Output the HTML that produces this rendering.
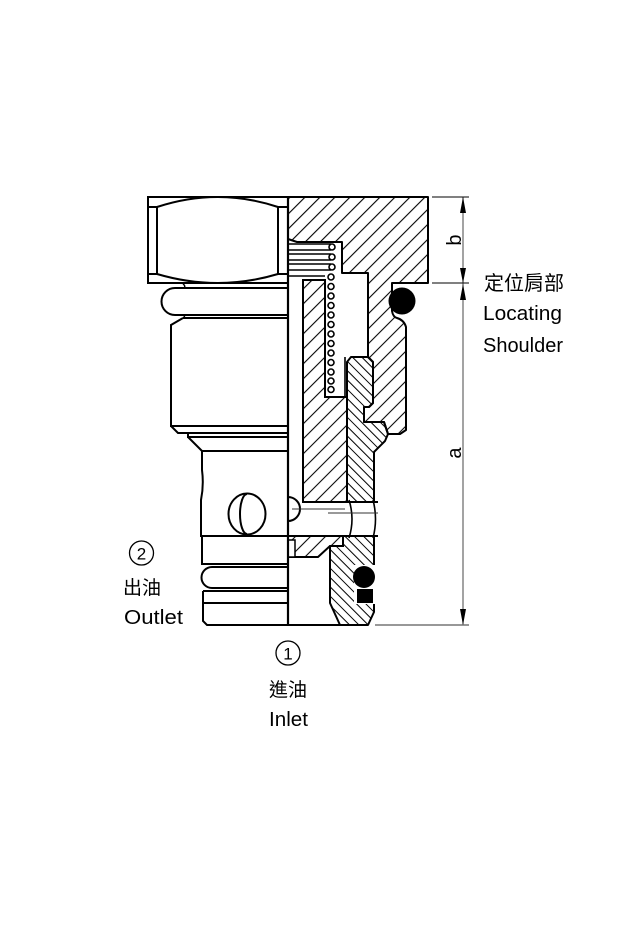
<!DOCTYPE html>
<html><head><meta charset="utf-8">
<style>
html,body{margin:0;padding:0;background:#fff;}
svg{display:block;}
text{font-family:"Liberation Sans","Noto Sans CJK TC",sans-serif;fill:#000;}
</style></head><body>
<svg width="623" height="927" viewBox="0 0 623 927" xmlns="http://www.w3.org/2000/svg">
<defs>
<pattern id="hA" patternUnits="userSpaceOnUse" width="10.6" height="10.6" patternTransform="rotate(45)">
<line x1="5.3" y1="0" x2="5.3" y2="10.6" stroke="#000" stroke-width="1.1"/>
</pattern>
<pattern id="hB" patternUnits="userSpaceOnUse" width="6.6" height="6.6" patternTransform="rotate(-45)">
<line x1="3.3" y1="0" x2="3.3" y2="6.6" stroke="#000" stroke-width="1"/>
</pattern>
</defs>
<rect width="623" height="927" fill="#fff"/>

<!-- LEFT EXTERNAL VIEW -->
<g fill="none" stroke="#000" stroke-width="2">
<rect x="148" y="197" width="140" height="86"/>
<path d="M148 207 H157 V274 H148 M288 207 H278 V274 H288"/>
<path d="M157 207 Q218 187 278 207"/>
<path d="M157 274 Q218 292 278 274"/>
<path d="M185 288 H175 A13.5 13.5 0 0 0 175 315 H185"/>
<path d="M175 288 H288 M175 315 H288 M183 318 H288"/>
<path d="M183 284 Q186 286 184 288 M183 315 Q186 317 183 318" stroke-width="1.5"/>
<path d="M183 318 L171 325 V426 H288"/>
<path d="M171 426 L178 433 H288 M188 433 V437 H288 M188 437 L202 451 H288"/>
<path d="M202 451 V470 Q204 485 201 500 V536 H288"/>
<path d="M202 536 V564 H288"/>
<path d="M218 567 H212 A10.5 10.5 0 0 0 212 588 H218 M212 567 H288 M212 588 H288"/>
<path d="M203 591 H288 M203 591 V621 L207 625 H288 M203 603 H288"/>
<ellipse cx="247" cy="514" rx="18.5" ry="20.5"/>
<path d="M247 494 A7 20 0 0 0 247 534"/>
</g>

<!-- SECTION VIEW -->
<!-- Region A body -->
<path d="M288 197 H428 V283 H392 V311 Q393 317 397 318 Q404 320 406 327 V430 L400 434 H388 L384 422 H364 V407 H369 L373 403 V362 L368 357 V273 H342 V242 H297 L288 239 Z" fill="url(#hA)" stroke="#000" stroke-width="2" stroke-linejoin="round"/>
<!-- Region B cage -->
<path d="M303 280 H325 V397 H347 V502 H303 Z" fill="url(#hA)" stroke="#000" stroke-width="2"/>
<path d="M288 536 H343 V546 H330 L318 557 H288 Z" fill="url(#hA)" stroke="#000" stroke-width="2"/>
<!-- Region C poppet/sleeve -->
<path d="M347 362 L351 357 H368 L373 362 V403 L369 407 H364 V422 H384 L388 434 L385 441 L374 452 V502 H347 Z" fill="url(#hB)" stroke="#000" stroke-width="2" stroke-linejoin="round"/>
<path d="M330 546 H343 V536 H374 V612 L368 625 H340 L330 603 Z" fill="url(#hB)" stroke="#000" stroke-width="2" stroke-linejoin="round"/>

<!-- cross hole -->
<rect x="302" y="502" width="76" height="34" fill="#fff"/>
<g fill="none" stroke="#000" stroke-width="2">
<path d="M302 502 H378 M302 536 H378"/>
<path d="M349 500 Q355 519 349 538 M373 500 Q378 519 373 538" stroke-width="1.6"/>
<path d="M288 497 A12 12 0 0 1 288 521"/>
</g>
<path d="M292 509 H345 M328 513 H378" stroke="#333" stroke-width="1" fill="none"/>
<rect x="288" y="540" width="7" height="17" fill="#fff" stroke="#000" stroke-width="1.5"/>

<!-- lower O-ring groove -->
<rect x="354" y="565" width="21" height="39" fill="#fff"/>
<circle cx="364" cy="577" r="11" fill="#000"/>
<rect x="357" y="589" width="16" height="14" fill="#000"/>
<!-- upper O-ring -->
<circle cx="402" cy="301" r="13.5" fill="#000"/>

<!-- misc lines -->
<g fill="none" stroke="#000">
<path d="M288 197 V625" stroke-width="2.2"/>
<path d="M288 276 H325" stroke-width="1.5"/>
<path d="M288 625 H368" stroke-width="2"/>
<path d="M368 273 V357" stroke-width="2"/>
</g>

<!-- spring -->
<g fill="none" stroke="#000" stroke-width="1.6">
<path d="M289 244 H331 M289 250 H331 M289 254 H331 M289 260 H331 M289 264 H331 M289 270 H331"/>
<circle cx="332" cy="247" r="3"/>
<circle cx="332" cy="257" r="3"/>
<circle cx="332" cy="267" r="3"/>
<circle cx="331" cy="277" r="3"/>
<circle cx="331" cy="286.5" r="3"/>
<circle cx="331" cy="296" r="3"/>
<circle cx="331" cy="305.5" r="3"/>
<circle cx="331" cy="315" r="3"/>
<circle cx="331" cy="324.5" r="3"/>
<circle cx="331" cy="334" r="3"/>
<circle cx="331" cy="343.5" r="3"/>
<circle cx="331" cy="353" r="3"/>
<circle cx="331" cy="362.5" r="3"/>
<circle cx="331" cy="372" r="3"/>
<circle cx="331" cy="381" r="3"/>
<circle cx="331" cy="389.5" r="3"/>
<path d="M325 397 H347 M345 357 V397"/>
</g>

<!-- DIMENSIONS -->
<g fill="none">
<path d="M463 197 V625" stroke="#666" stroke-width="1.2"/>
<path d="M432 197 H469 M432 283 H469" stroke="#000" stroke-width="1.1"/>
<path d="M375 625 H469" stroke="#777" stroke-width="1.5"/>
</g>
<g fill="#000">
<polygon points="463,197 460,213 466,213"/>
<polygon points="463,283 460,268 466,268"/>
<polygon points="463,284 460,300 466,300"/>
<polygon points="463,625 460,609 466,609"/>
</g>
<text transform="translate(461,240) rotate(-90)" text-anchor="middle" font-size="20">b</text>
<text transform="translate(461,453) rotate(-90)" text-anchor="middle" font-size="20">a</text>

<!-- LABELS -->
<text x="484" y="290" font-size="20">定位肩部</text>
<text x="483" y="320" font-size="20" textLength="79" lengthAdjust="spacingAndGlyphs">Locating</text>
<text x="483" y="352" font-size="20" textLength="80" lengthAdjust="spacingAndGlyphs">Shoulder</text>

<circle cx="141.5" cy="553" r="12" fill="none" stroke="#000" stroke-width="1.3"/>
<text x="141.5" y="559.5" font-size="17" text-anchor="middle">2</text>
<text x="142" y="594" font-size="19" text-anchor="middle">出油</text>
<text x="124" y="624" font-size="20" textLength="59" lengthAdjust="spacingAndGlyphs">Outlet</text>

<circle cx="288" cy="653" r="12" fill="none" stroke="#000" stroke-width="1.3"/>
<text x="288" y="659.5" font-size="17" text-anchor="middle">1</text>
<text x="288" y="696" font-size="19" text-anchor="middle">進油</text>
<text x="269" y="726" font-size="20" textLength="39" lengthAdjust="spacingAndGlyphs">Inlet</text>
</svg>
</body></html>
